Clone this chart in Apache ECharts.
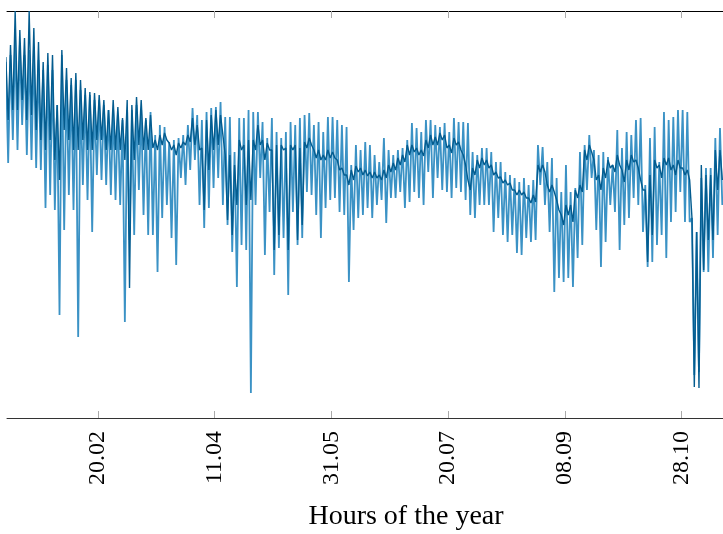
<!DOCTYPE html>
<html>
<head>
<meta charset="utf-8">
<script src="https://cdn.jsdelivr.net/npm/echarts@6/dist/echarts.min.js"></script>
<style>
  html, body { margin: 0; padding: 0; background: #fff; }
  #chart { width: 723px; height: 534px; }
</style>
</head>
<body>
<div id="chart"></div>
<script>
// hours of the year, one column every 2 days
const startHour = 264;
const stepHours = 48;

const tickHours = [1200, 2400, 3600, 4800, 6000, 7200];
const tickLabels = ['20.02', '11.04', '31.05', '20.07', '08.09', '28.10'];

// light series: upper / lower envelope per column
const lightHigh = [
  356,363,378,373,363,368,368,358,348,353,348,313,363,338,333,338,328,323,323,318,318,313,308,308,303,298,308,308,313,308,298,
  306,283,293,291,276,278,280,283,293,310,303,298,306,310,311,316,301,301,266,300,300,308,306,306,296,280,300,286,280,286,296,
  293,300,303,305,293,296,286,301,301,298,293,291,253,273,268,276,273,263,256,280,268,263,268,270,278,295,290,286,298,298,293,
  291,295,286,300,296,296,295,266,263,270,270,266,256,256,246,243,240,236,240,233,238,273,271,256,260,240,226,253,226,230,266,
  273,283,268,263,266,261,253,288,270,286,283,298,300,233,280,291,256,306,298,301,308,308,306,200,186,240,250,250,280,290
];
const lightLow = [
  255,278,268,293,263,258,250,248,210,223,208,103,188,223,208,81,233,218,186,243,238,233,223,218,213,96,178,183,228,203,183,
  183,146,200,213,180,153,240,233,248,258,213,190,210,230,240,213,193,166,131,173,168,25,213,240,163,206,143,170,180,123,206,
  173,180,226,223,203,180,210,218,220,206,203,136,188,200,203,210,200,213,218,195,220,220,226,210,216,226,220,213,246,220,240,
  228,226,220,230,226,218,203,200,213,213,213,186,200,183,176,183,165,163,180,176,178,233,213,186,126,140,136,140,131,160,173,
  228,240,188,151,176,213,206,168,193,200,220,213,186,151,156,173,183,160,196,206,226,196,196,43,46,146,146,160,183,213
];

// dark series: upper / lower envelope per column
const darkHigh = [
  361,373,407,388,380,407,390,376,356,365,363,313,368,350,340,345,338,330,326,325,323,318,308,318,311,300,318,313,321,318,300,
  303,278,283,285,275,273,275,276,283,300,293,270,298,303,308,303,263,263,253,278,273,278,278,293,278,275,268,273,273,270,273,
  273,270,276,280,268,268,263,268,266,258,250,243,248,252,250,248,246,246,243,248,253,255,260,263,273,273,270,268,278,283,281,
  285,283,273,280,276,263,238,250,258,260,258,253,246,241,238,235,228,228,226,220,223,253,253,233,233,218,203,213,213,228,233,
  268,273,258,243,250,258,253,263,248,258,263,258,238,228,243,258,253,260,260,253,258,250,248,200,186,253,243,243,268,268
];
const darkLow = [
  298,308,308,318,298,303,288,278,268,278,258,238,288,278,268,268,278,268,268,278,278,268,268,268,268,258,130,258,273,268,268,
  270,268,273,278,268,263,270,273,276,273,268,208,248,268,273,283,198,183,213,268,213,218,268,273,258,268,168,183,268,168,268,
  178,193,270,273,260,258,258,260,260,248,243,233,238,246,243,242,240,240,238,240,246,248,253,256,263,266,263,262,270,273,273,
  278,270,265,273,268,253,228,243,250,253,250,243,240,235,233,228,223,223,220,215,216,246,246,226,226,208,193,203,196,220,226,
  258,266,238,228,240,250,246,253,236,248,256,250,228,156,183,250,240,253,248,243,250,243,238,31,30,148,178,178,228,238
];

// one up-down stroke per column, centred on the column's hour
function zigzag(high, low) {
  const pts = [];
  high.forEach((h, i) => {
    const t = startHour + i * stepHours;
    pts.push([t - stepHours / 4, h]);
    pts.push([t + stepHours / 4, low[i]]);
  });
  return pts;
}

const serif = '"Liberation Serif", "DejaVu Serif", serif';

const chart = echarts.init(document.getElementById('chart'));
chart.setOption({
  animation: false,
  grid: { left: 7, right: 0, top: 11, bottom: 116, containLabel: false, outerBoundsMode: 'none' },
  xAxis: [
    {
      type: 'value',
      position: 'bottom',
      min: 264,
      max: 7627,
      axisLine: { lineStyle: { color: '#333', width: 1 } },
      axisTick: { inside: true, length: 7, customValues: tickHours, lineStyle: { color: '#aaa', width: 1 } },
      axisLabel: {
        customValues: tickHours,
        rotate: 90,
        margin: 13,
        color: '#000',
        fontFamily: serif,
        fontSize: 24,
        formatter: (v) => tickLabels[tickHours.indexOf(v)] || ''
      },
      splitLine: { show: false }
    },
    {
      type: 'value',
      position: 'top',
      min: 264,
      max: 7627,
      axisLine: { lineStyle: { color: '#000', width: 1 } },
      axisTick: { inside: true, length: 7, customValues: tickHours, lineStyle: { color: '#aaa', width: 1 } },
      axisLabel: { show: false },
      splitLine: { show: false }
    }
  ],
  yAxis: { type: 'value', min: 0, max: 407, show: false, splitLine: { show: false } },
  graphic: [{
    type: 'text',
    x: 406,
    y: 517,
    style: { text: 'Hours of the year', font: '28px ' + serif, fill: '#000', textAlign: 'center', textVerticalAlign: 'middle' }
  }],
  series: [
    {
      type: 'line',
      data: zigzag(lightHigh, lightLow),
      showSymbol: false,
      symbol: 'none',
      lineStyle: { color: '#3b92c5', width: 1.8 },
      z: 2
    },
    {
      type: 'line',
      data: zigzag(darkHigh, darkLow),
      showSymbol: false,
      symbol: 'none',
      lineStyle: { color: '#045c8f', width: 1.4 },
      z: 3
    }
  ]
});
</script>
</body>
</html>
